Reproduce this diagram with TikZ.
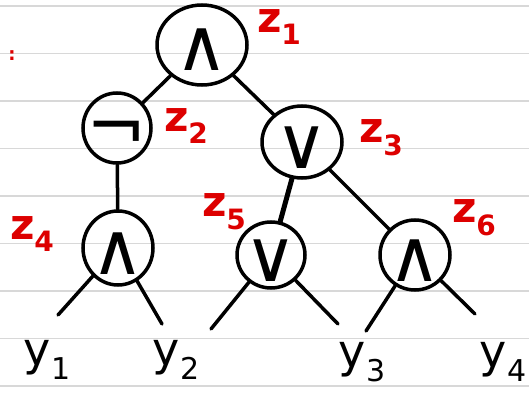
\documentclass[tikz,border=0pt]{standalone}
\usepackage{fontspec}
\setmainfont{DejaVu Sans}
\usetikzlibrary{shapes.geometric}
\definecolor{ink}{HTML}{DD0000}
\definecolor{rule}{HTML}{D8D8D8}
\newcommand\mysub[3]{#1\raisebox{-0.3em}{\fontsize{#3}{#3}\selectfont #2}}
\begin{document}
\begin{tikzpicture}[x=1pt,y=-1pt,
  gate/.style={ellipse,draw,line width=3.5pt,inner sep=0pt},
  sym/.style={inner sep=0pt,text height=52pt,text depth=0pt,font=\fontsize{72}{72}\selectfont},
  tag/.style={text=ink,inner sep=1pt,font=\fontsize{42}{42}\selectfont\bfseries},
  leaf/.style={inner sep=1pt,font=\fontsize{46}{46}\selectfont},
  wire/.style={line width=3.5pt,line cap=round},
  paper/.style={rule,line width=1.5pt}]
\useasboundingbox (0,0) rectangle (529,398);
\fill[white] (0,0) rectangle (529,398);
\foreach \yy in {6,53.5,101,148.5,196,243.5,291,338.5,386}
  \draw[paper] (0,\yy) -- (529,\yy);
% gates
\node[gate,minimum width=90,minimum height=80] (g1) at (202,45) {};
\node[gate,minimum width=68,minimum height=70] (g2) at (117,128) {};
\node[gate,minimum width=80,minimum height=72] (g3) at (302,142) {};
\node[gate,minimum width=70,minimum height=74] (g4) at (118,248) {};
\node[gate,minimum width=68,minimum height=66] (g5) at (271,255) {};
\node[gate,minimum width=70,minimum height=70] (g6) at (415,255) {};
\node[sym] (s1) at (g1.center) {∧};
\node[sym] (s2) at ([yshift=2pt]g2.center) {¬};
\node[sym] (s3) at (g3.center) {∨};
\node[sym] (s4) at (g4.center) {∧};
\node[sym] (s5) at (g5.center) {∨};
\node[sym] (s6) at (g6.center) {∧};
% labels
\node[tag] (t1) at (279,27) {\mysub{z}{1}{28}};
\node[tag] (t2) at (186,126) {\mysub{z}{2}{28}};
\node[tag] (t3) at (381,138) {\mysub{z}{3}{28}};
\node[tag] (t4) at (32,234) {\mysub{z}{4}{28}};
\node[tag] (t5) at (224,212) {\mysub{z}{5}{28}};
\node[tag] (t6) at (474,218) {\mysub{z}{6}{28}};
\node[text=ink,font=\fontsize{18}{18}\selectfont\bfseries] (dot) at (12,56) {:};
% leaves
\node[leaf] (y1) at (47,360) {\mysub{y}{1}{30}};
\node[leaf] (y2) at (176,360) {\mysub{y}{2}{30}};
\node[leaf] (y3) at (362,362) {\mysub{y}{3}{30}};
\node[leaf] (y4) at (503,362) {\mysub{y}{4}{30}};
% wires
\draw[wire] (g1) -- (g2);
\draw[wire] (g1) -- (g3);
\draw[wire] (g2) -- (g4);
\draw[wire,line width=5pt] (g3) -- (g5);
\draw[wire] (g3) -- (g6);
\coordinate (a1) at (58,315);
\coordinate (a2) at (162,324);
\coordinate (a3) at (211,329);
\coordinate (a4) at (338,324);
\coordinate (a5) at (366,331);
\coordinate (a6) at (475,314);
\draw[wire] (g4) -- (a1);
\draw[wire] (g4) -- (a2);
\draw[wire] (g5) -- (a3);
\draw[wire] (g5) -- (a4);
\draw[wire] (g6) -- (a5);
\draw[wire] (g6) -- (a6);
\end{tikzpicture}
\end{document}
